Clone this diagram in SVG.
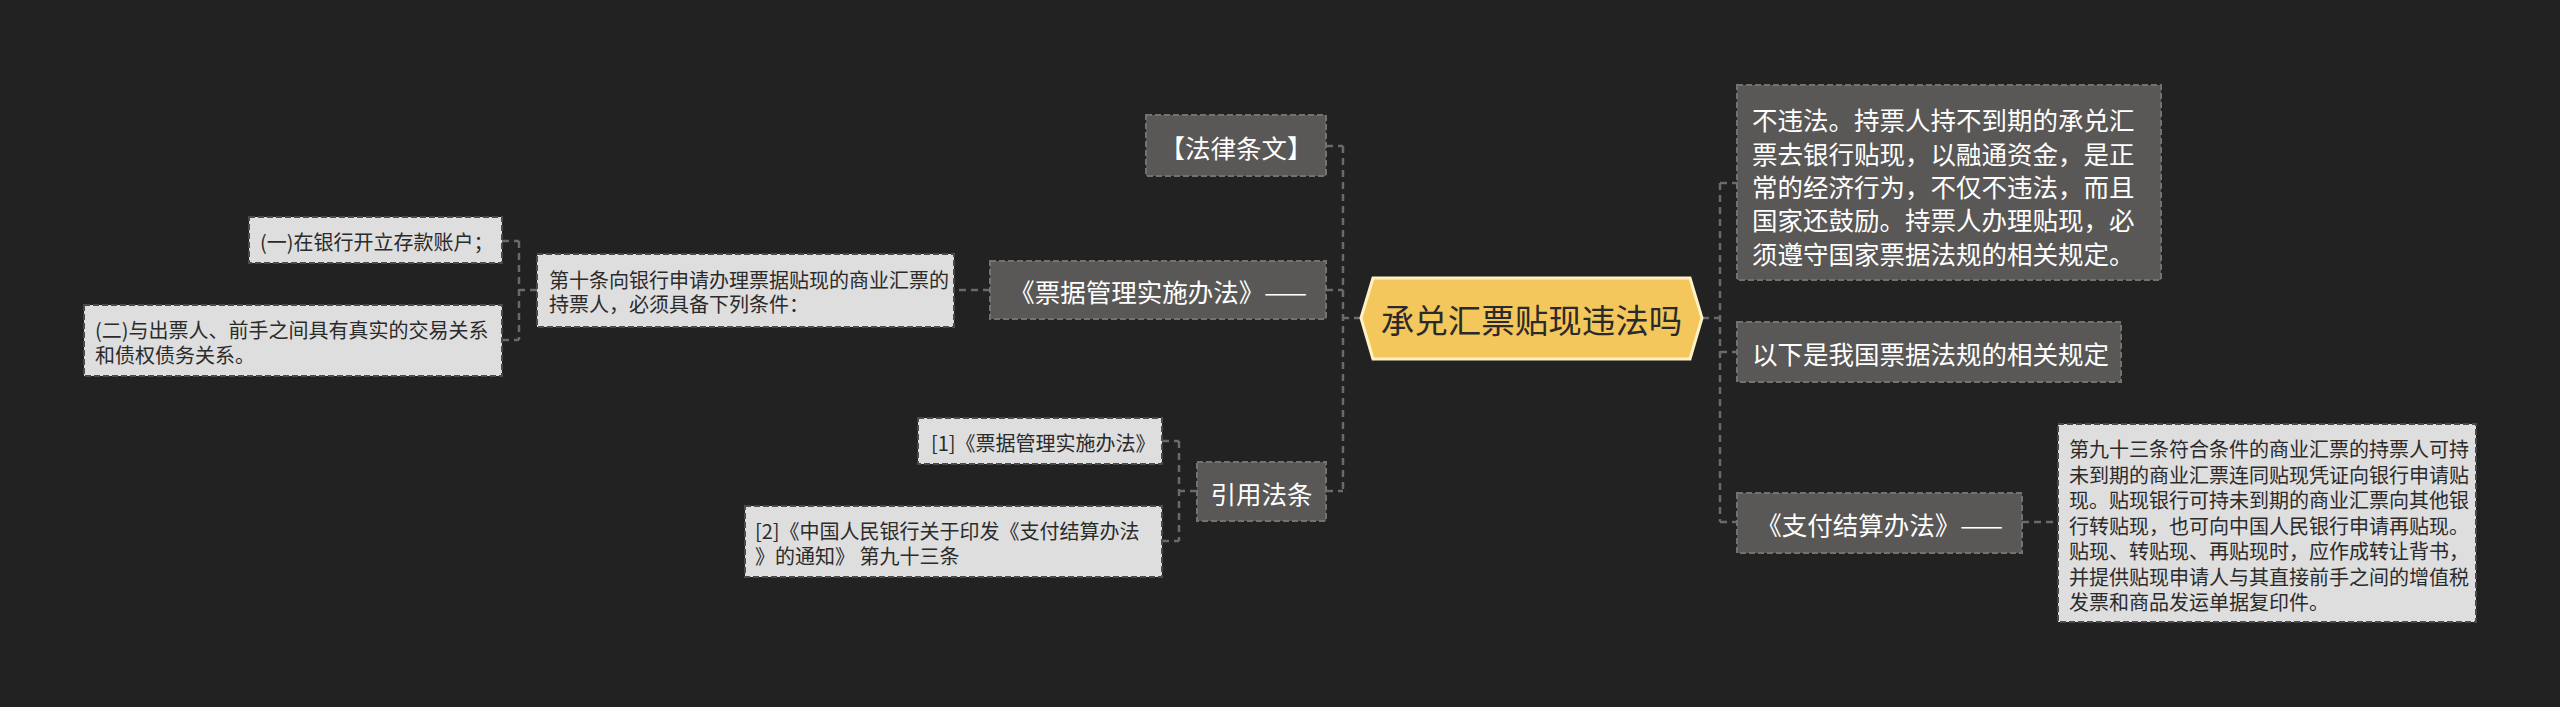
<svg xmlns="http://www.w3.org/2000/svg" width="2560" height="707" viewBox="0 0 2560 707">
<style>
  text { font-family: "Noto Sans CJK SC", "Noto Sans", sans-serif; dominant-baseline: central; }
  .dark rect { fill: #5a5856; stroke: #74726f; stroke-width: 2; stroke-dasharray: 6 3; }
  .dark text { fill: #ffffff; font-size: 25.5px; }
  .light rect { fill: #dedede; stroke: #4a4a4a; stroke-width: 2; stroke-dasharray: 6 3; }
  .light text { fill: #2b2b2b; font-size: 20px; }
  #connectors path { fill: none; stroke: #6a6a6a; stroke-width: 2.5; stroke-dasharray: 7 5; }
</style>
<rect x="0" y="0" width="2560" height="707" fill="#222222"/>

<g id="connectors">
  <path d="M1361 318 H1343 M1343 146 V491 M1326 146 H1343 M1326 290 H1343 M1326 491 H1343"/>
  <path d="M990 290 H954"/>
  <path d="M537 290 H519 M519 241 V340 M502 241 H519 M502 340 H519"/>
  <path d="M1197 491 H1179 M1179 441 V541 M1162 441 H1179 M1162 541 H1179"/>
  <path d="M1702 318 H1720 M1720 183 V522 M1720 183 H1737 M1720 352 H1737 M1720 522 H1737"/>
  <path d="M2022 522 H2058"/>
</g>

<g id="center">
  <polygon points="1361,318 1373,278 1690,278 1702,318 1690,359 1373,359" fill="#f3c75b" stroke="#fff1c4" stroke-width="3"/>
  <text x="1531.5" y="318" font-size="33.5" fill="#2a2a2a" text-anchor="middle">承兑汇票贴现违法吗</text>
</g>

<g id="n-falv" class="dark">
  <rect x="1146" y="115" width="180" height="61"/>
  <text x="1236" y="146" text-anchor="middle">【法律条文】</text>
</g>

<g id="n-piaoju" class="dark">
  <rect x="990" y="261" width="336" height="58"/>
  <text x="1158" y="290" text-anchor="middle">《票据管理实施办法》——</text>
</g>

<g id="n-yinyong" class="dark">
  <rect x="1197" y="462" width="129" height="59"/>
  <text x="1261.5" y="492" text-anchor="middle">引用法条</text>
</g>

<g id="n-dishitiao" class="light">
  <rect x="537" y="254" width="417" height="73"/>
  <text x="549" y="279">第十条向银行申请办理票据贴现的商业汇票的</text>
  <text x="549" y="303">持票人，必须具备下列条件：</text>
</g>

<g id="n-yi" class="light">
  <rect x="249" y="217" width="253" height="46"/>
  <text x="260" y="241">(一)在银行开立存款账户；</text>
</g>

<g id="n-er" class="light">
  <rect x="84" y="305" width="418" height="71"/>
  <text x="95" y="329">(二)与出票人、前手之间具有真实的交易关系</text>
  <text x="95" y="354">和债权债务关系。</text>
</g>

<g id="n-ref1" class="light">
  <rect x="918" y="418" width="244" height="46"/>
  <text x="931" y="442">[1]《票据管理实施办法》</text>
</g>

<g id="n-ref2" class="light">
  <rect x="745" y="506" width="417" height="71"/>
  <text x="755" y="530">[2]《中国人民银行关于印发《支付结算办法</text>
  <text x="755" y="555">》的通知》 第九十三条</text>
</g>

<g id="n-buweifa" class="dark">
  <rect x="1737" y="85" width="424" height="195"/>
  <text x="1752" y="118">不违法。持票人持不到期的承兑汇</text>
  <text x="1752" y="152">票去银行贴现，以融通资金，是正</text>
  <text x="1752" y="185">常的经济行为，不仅不违法，而且</text>
  <text x="1752" y="218">国家还鼓励。持票人办理贴现，必</text>
  <text x="1752" y="252">须遵守国家票据法规的相关规定。</text>
</g>

<g id="n-yixia" class="dark">
  <rect x="1737" y="322" width="384" height="60"/>
  <text x="1752" y="352">以下是我国票据法规的相关规定</text>
</g>

<g id="n-zhifu" class="dark">
  <rect x="1737" y="493" width="285" height="60"/>
  <text x="1879.5" y="523" text-anchor="middle">《支付结算办法》——</text>
</g>

<g id="n-93" class="light">
  <rect x="2058" y="424" width="418" height="198"/>
  <text x="2069" y="448">第九十三条符合条件的商业汇票的持票人可持</text>
  <text x="2069" y="474">未到期的商业汇票连同贴现凭证向银行申请贴</text>
  <text x="2069" y="499">现。贴现银行可持未到期的商业汇票向其他银</text>
  <text x="2069" y="525">行转贴现，也可向中国人民银行申请再贴现。</text>
  <text x="2069" y="550">贴现、转贴现、再贴现时，应作成转让背书，</text>
  <text x="2069" y="576">并提供贴现申请人与其直接前手之间的增值税</text>
  <text x="2069" y="601">发票和商品发运单据复印件。</text>
</g>
</svg>
